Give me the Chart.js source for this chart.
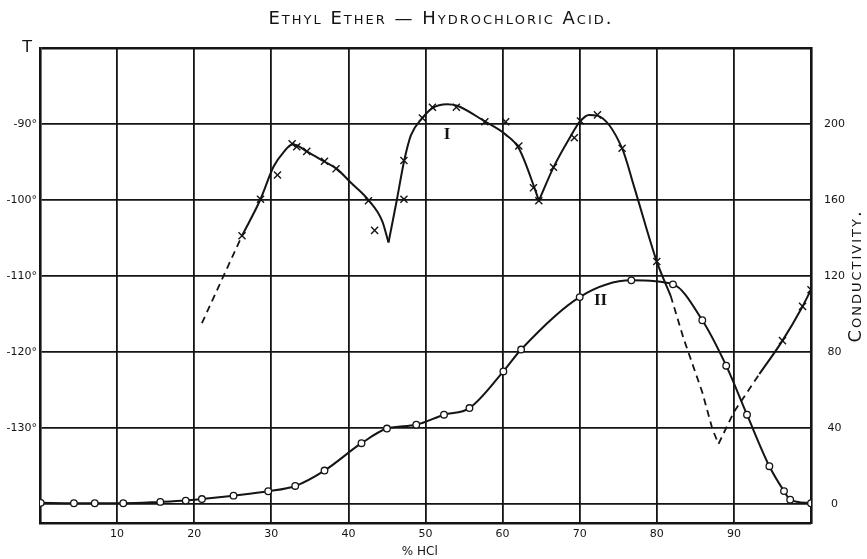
<!DOCTYPE html>
<html>
<head>
<meta charset="utf-8">
<script src="https://cdn.jsdelivr.net/npm/chart.js@4.4.1/dist/chart.umd.min.js"></script>
<style>
  html, body { margin: 0; padding: 0; background: #ffffff; }
  canvas { display: block; }
</style>
</head>
<body>
<canvas id="c" width="867" height="559"></canvas>
<script>
// ---------- data ----------
const titleText = 'Ethyl Ether \u2014 Hydrochloric Acid.';
const rightAxisTitle = 'Conductivity.';
const xAxisTitle = '% HCl';

const xTickValues = [0, 10, 20, 30, 40, 50, 60, 70, 80, 90, 100];
const xTickLabels = ['', '10', '20', '30', '40', '50', '60', '70', '80', '90', ''];
const tempTickValues = [-140, -130, -120, -110, -100, -90, -80];
const tempTickLabels = ['', '-130°', '-120°', '-110°', '-100°', '-90°', 'T '];
const condTickValues = [0, 40, 80, 120, 160, 200];
const condTickLabels = ['0', '40', '80', '120', '160', '200'];

// Curve I (freezing point, temperature) - drawn line pieces [% HCl, T]
const curveI_dashLeft = [[21.0, -116.2], [26.2, -104.7]];
const curveI_partA = [[26.2, -104.7], [28.6, -99.9], [30.3, -95.6], [31.6, -93.7], [32.7, -92.7], [33.3, -92.8],
  [34.6, -93.6], [36.8, -94.9], [38.5, -95.9], [40.3, -97.7], [42.6, -100.0], [44.4, -102.8], [45.2, -105.6]];
const curveI_partB = [[45.2, -105.6], [46.3, -99.9], [47.2, -95.0], [48.1, -91.5], [49.6, -89.2], [50.9, -87.9],
  [52.8, -87.4], [54.1, -87.6], [57.6, -89.6], [60.4, -91.4], [62.1, -93.2], [64.2, -98.6], [64.7, -100.1]];
const curveI_partC = [[64.7, -100.1], [66.6, -95.7], [68.6, -92.0], [70.1, -89.6], [71.2, -88.8], [72.3, -88.9],
  [75.5, -93.2], [77.1, -98.4], [80.0, -108.1], [81.8, -112.6]];
const curveI_dashRight = [[81.8, -112.6], [83.5, -118.3], [85.9, -125.3], [87.2, -130.1], [88.0, -132.1],
  [90.0, -127.9], [93.3, -122.9]];
const curveI_partD = [[93.3, -122.9], [96.3, -118.5], [98.9, -114.0], [100.0, -111.8]];

// Curve I observed points (crosses)
const curveI_obs = [[26.2, -104.7], [28.6, -99.9], [30.8, -96.7], [32.7, -92.6], [33.3, -93.0], [34.6, -93.6],
  [36.9, -94.9], [38.4, -95.9], [42.6, -100.1], [43.4, -104.0], [47.2, -99.9], [47.2, -94.8], [49.6, -89.2],
  [50.9, -87.8], [54.0, -87.8], [57.7, -89.7], [60.4, -89.7], [62.1, -92.9], [64.0, -98.4], [64.7, -100.1],
  [66.6, -95.7], [69.3, -91.8], [70.1, -89.6], [72.3, -88.8], [75.5, -93.2], [80.0, -108.1],
  [96.3, -118.5], [98.9, -114.0], [100.0, -111.8]];

// Curve II (conductivity) [% HCl, conductivity]
const curveII = [[0.1, 0.6], [4.4, 0.4], [7.1, 0.4], [10.8, 0.4], [15.6, 1.1], [18.9, 1.8], [21.0, 2.6],
  [25.1, 4.4], [29.6, 6.7], [33.1, 9.5], [36.9, 17.6], [41.7, 32.0], [45.0, 39.7], [48.8, 41.7], [52.4, 47.0],
  [55.7, 50.5], [60.1, 69.8], [62.4, 81.3], [70.0, 108.9], [76.7, 117.7], [82.1, 115.6], [85.9, 96.7],
  [89.0, 72.8], [91.7, 47.0], [94.6, 19.9], [96.5, 6.8], [97.3, 2.3], [100.0, 0.4]];

// ---------- chart ----------
const INK = '#141414';
const toXY = arr => arr.map(p => ({ x: p[0], y: p[1] }));

function solid(arr, axis) {
  return { type: 'line', data: toXY(arr), yAxisID: axis, borderColor: INK, borderWidth: 2,
    pointRadius: 0, cubicInterpolationMode: 'monotone', fill: false };
}
function dashed(arr, axis) {
  return { type: 'line', data: toXY(arr), yAxisID: axis, borderColor: INK, borderWidth: 1.8,
    borderDash: [7, 5], pointRadius: 0, tension: 0, fill: false };
}

const annotations = {
  id: 'annotations',
  afterDraw(chart) {
    const { ctx, scales } = chart;
    ctx.save();
    ctx.fillStyle = INK;
    ctx.textAlign = 'center';
    ctx.textBaseline = 'middle';
    // title
    ctx.font = 'small-caps 18px "DejaVu Sans"';
    if ('letterSpacing' in ctx) ctx.letterSpacing = '2px';
    ctx.fillText(titleText, 441, 19);
    // right axis title (reads bottom to top)
    ctx.save();
    ctx.translate(856, 276);
    ctx.rotate(-Math.PI / 2);
    ctx.font = 'small-caps 18px "DejaVu Sans"';
    if ('letterSpacing' in ctx) ctx.letterSpacing = '2px';
    ctx.fillText(rightAxisTitle, 0, 0);
    ctx.restore();
    // roman labels
    if ('letterSpacing' in ctx) ctx.letterSpacing = '0px';
    ctx.font = 'bold 17px "Liberation Serif"';
    ctx.fillText('I', scales.x.getPixelForValue(52.8), scales.y.getPixelForValue(-91.4));
    ctx.fillText('II', scales.x.getPixelForValue(72.7), scales.y1.getPixelForValue(107));
    ctx.restore();
  }
};

new Chart(document.getElementById('c'), {
  data: {
    datasets: [
      dashed(curveI_dashLeft, 'y'),
      solid(curveI_partA, 'y'),
      solid(curveI_partB, 'y'),
      solid(curveI_partC, 'y'),
      dashed(curveI_dashRight, 'y'),
      solid(curveI_partD, 'y'),
      { type: 'scatter', data: toXY(curveI_obs), yAxisID: 'y', showLine: false,
        pointStyle: 'crossRot', pointRadius: 5, borderColor: INK, pointBorderWidth: 1.4 },
      { type: 'line', data: toXY(curveII), yAxisID: 'y1', borderColor: INK, borderWidth: 2,
        cubicInterpolationMode: 'monotone', fill: false,
        pointStyle: 'circle', pointRadius: 3.3, pointBackgroundColor: '#ffffff',
        pointBorderColor: INK, pointBorderWidth: 1.3 }
    ]
  },
  options: {
    responsive: false,
    animation: false,
    layout: { padding: { top: 48, left: 0, right: 0, bottom: 0 } },
    plugins: { legend: { display: false }, tooltip: { enabled: false }, title: { display: false } },
    scales: {
      x: {
        type: 'linear', position: 'bottom', min: 0, max: 100,
        afterBuildTicks: s => { s.ticks = xTickValues.map(v => ({ value: v })); },
        afterFit: s => { s.height = 36; },
        grid: { color: INK, lineWidth: ctx => (ctx.tick && (ctx.tick.value === 0 || ctx.tick.value === 100)) ? 0 : 1.8, drawTicks: false },
        border: { color: INK, width: 2.6 },
        ticks: { autoSkip: false, maxRotation: 0, padding: 5, color: INK,
          font: { family: 'DejaVu Sans', size: 11 },
          callback: (v, i) => xTickLabels[i] },
        title: { display: true, text: xAxisTitle + '   ', color: INK, padding: { top: 0, bottom: 0 },
          font: { family: 'DejaVu Sans', size: 12 } }
      },
      y: {
        type: 'linear', position: 'left', min: -142.5, max: -80,
        afterBuildTicks: s => { s.ticks = tempTickValues.map(v => ({ value: v })); },
        afterFit: s => { s.width = 40; },
        grid: { color: INK, lineWidth: ctx => (ctx.tick && ctx.tick.value === -80) ? 2.6 : 1.8, drawTicks: false },
        border: { color: INK, width: 2.6 },
        ticks: { padding: 3, color: INK,
          font: ctx => (ctx.tick && ctx.tick.value === -80) ? { family: 'DejaVu Sans', size: 16 } : { family: 'DejaVu Sans', size: 11 },
          callback: (v, i) => tempTickLabels[i] }
      },
      y1: {
        type: 'linear', position: 'right', min: -10, max: 240,
        afterBuildTicks: s => { s.ticks = condTickValues.map(v => ({ value: v })); },
        afterFit: s => { s.width = 56; },
        grid: { drawOnChartArea: false, drawTicks: false },
        border: { color: INK, width: 2.6 },
        ticks: { padding: 13, crossAlign: 'center', color: INK,
          font: { family: 'DejaVu Sans', size: 11 },
          callback: (v, i) => condTickLabels[i] }
      }
    }
  },
  plugins: [annotations]
});
</script>
</body>
</html>
